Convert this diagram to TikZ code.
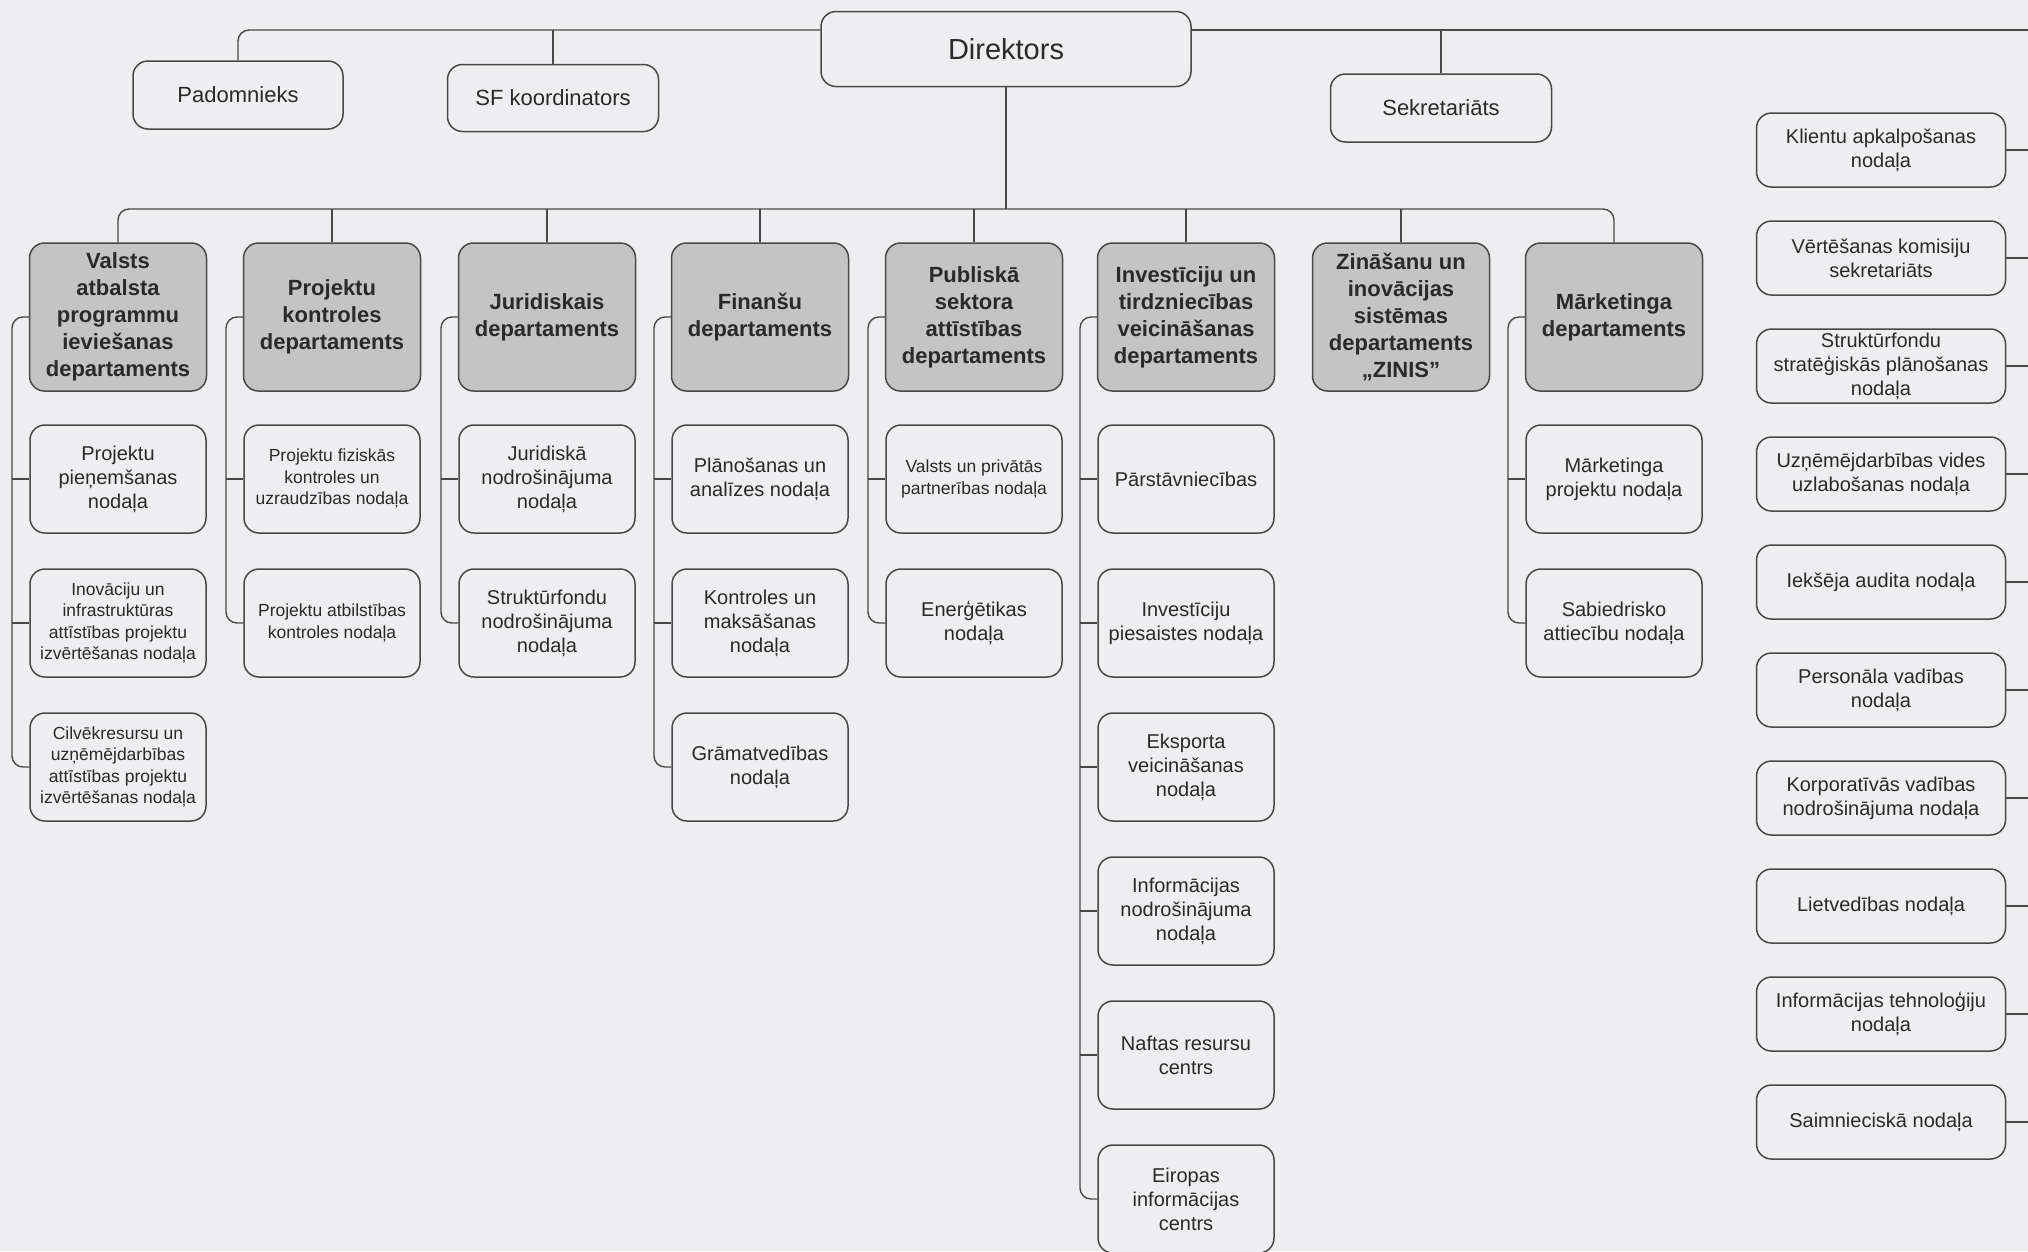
\documentclass[tikz,border=0pt]{standalone}
\usepackage{fontspec}
\setmainfont{Liberation Sans}
\begin{document}
\definecolor{bg}{RGB}{238,238,240}
\definecolor{ln}{RGB}{72,72,72}
\definecolor{tx}{RGB}{42,42,42}
\definecolor{dg}{RGB}{196,196,196}
\tikzset{
  obox/.style={draw=ln, line width=1.5pt, rounded corners=15pt, fill=bg, text=tx,
    align=center, inner sep=0pt},
  topbox/.style={obox, font=\fontsize{22}{27}\selectfont},
  dept/.style={obox, fill=dg, minimum width=177pt, minimum height=148pt,
    font=\bfseries\fontsize{22}{27}\selectfont},
  sub/.style={obox, minimum width=176pt, minimum height=108pt,
    font=\fontsize{20}{24}\selectfont},
  subs/.style={sub, font=\fontsize{17.5}{21.5}\selectfont},
  rbox/.style={obox, minimum width=249pt, minimum height=74pt,
    font=\fontsize{20}{24}\selectfont},
  conn/.style={draw=ln, line width=1.4pt, rounded corners=11pt}
}
\begin{tikzpicture}[x=1pt,y=-1pt]
\useasboundingbox (0,0) rectangle (2028,1251);
\fill[bg] (0,0) rectangle (2028,1251);

% coordinates
\coordinate (ty) at (0,30);
\coordinate (redge) at (2028,30);
\coordinate (dl) at (0,209);
\coordinate (b1) at (12,0);
\coordinate (b2) at (226,0);
\coordinate (b3) at (441,0);
\coordinate (b4) at (654,0);
\coordinate (b5) at (868,0);
\coordinate (b6) at (1080,0);
\coordinate (b8) at (1508,0);

% top level
\node[topbox, minimum width=370pt, minimum height=75pt, font=\fontsize{29}{34}\selectfont] (dir) at (1006,49) {Direktors};
\node[topbox, minimum width=210pt, minimum height=68pt] (pad) at (238,95) {Padomnieks};
\node[topbox, minimum width=211pt, minimum height=67pt] (sf) at (553,98) {SF koordinators};
\node[topbox, minimum width=221pt, minimum height=68pt] (sek) at (1441,108) {Sekretariāts};

% departments
\node[dept] (d1) at (118,317) {Valsts\\atbalsta\\programmu\\ieviešanas\\departaments};
\node[dept] (d2) at (332,317) {Projektu\\kontroles\\departaments};
\node[dept] (d3) at (547,317) {Juridiskais\\departaments};
\node[dept] (d4) at (760,317) {Finanšu\\departaments};
\node[dept] (d5) at (974,317) {Publiskā\\sektora\\attīstības\\departaments};
\node[dept] (d6) at (1186,317) {Investīciju un\\tirdzniecības\\veicināšanas\\departaments};
\node[dept] (d7) at (1401,317) {Zināšanu un\\inovācijas\\sistēmas\\departaments\\„ZINIS”};
\node[dept] (d8) at (1614,317) {Mārketinga\\departaments};

% column 1
\node[sub]  (c1a) at (118,479) {Projektu\\pieņemšanas\\nodaļa};
\node[subs] (c1b) at (118,623) {Inovāciju un\\infrastruktūras\\attīstības projektu\\izvērtēšanas nodaļa};
\node[subs] (c1c) at (118,767) {Cilvēkresursu un\\uzņēmējdarbības\\attīstības projektu\\izvērtēšanas nodaļa};
% column 2
\node[subs] (c2a) at (332,479) {Projektu fiziskās\\kontroles un\\uzraudzības nodaļa};
\node[subs] (c2b) at (332,623) {Projektu atbilstības\\kontroles nodaļa};
% column 3
\node[sub] (c3a) at (547,479) {Juridiskā\\nodrošinājuma\\nodaļa};
\node[sub] (c3b) at (547,623) {Struktūrfondu\\nodrošinājuma\\nodaļa};
% column 4
\node[sub] (c4a) at (760,479) {Plānošanas un\\analīzes nodaļa};
\node[sub] (c4b) at (760,623) {Kontroles un\\maksāšanas\\nodaļa};
\node[sub] (c4c) at (760,767) {Grāmatvedības\\nodaļa};
% column 5
\node[subs] (c5a) at (974,479) {Valsts un privātās\\partnerības nodaļa};
\node[sub]  (c5b) at (974,623) {Enerģētikas\\nodaļa};
% column 6
\node[sub] (c6a) at (1186,479) {Pārstāvniecības};
\node[sub] (c6b) at (1186,623) {Investīciju\\piesaistes nodaļa};
\node[sub] (c6c) at (1186,767) {Eksporta\\veicināšanas\\nodaļa};
\node[sub] (c6d) at (1186,911) {Informācijas\\nodrošinājuma\\nodaļa};
\node[sub] (c6e) at (1186,1055) {Naftas resursu\\centrs};
\node[sub] (c6f) at (1186,1199) {Eiropas\\informācijas\\centrs};
% column 8
\node[sub] (c8a) at (1614,479) {Mārketinga\\projektu nodaļa};
\node[sub] (c8b) at (1614,623) {Sabiedrisko\\attiecību nodaļa};

% right column
\node[rbox] (r1)  at (1881,150) {Klientu apkalpošanas\\nodaļa};
\node[rbox] (r2)  at (1881,258) {Vērtēšanas komisiju\\sekretariāts};
\node[rbox] (r3)  at (1881,366) {Struktūrfondu\\stratēģiskās plānošanas\\nodaļa};
\node[rbox] (r4)  at (1881,474) {Uzņēmējdarbības vides\\uzlabošanas nodaļa};
\node[rbox] (r5)  at (1881,582) {Iekšēja audita nodaļa};
\node[rbox] (r6)  at (1881,690) {Personāla vadības\\nodaļa};
\node[rbox] (r7)  at (1881,798) {Korporatīvās vadības\\nodrošinājuma nodaļa};
\node[rbox] (r8)  at (1881,906) {Lietvedības nodaļa};
\node[rbox] (r9)  at (1881,1014) {Informācijas tehnoloģiju\\nodaļa};
\node[rbox] (r10) at (1881,1122) {Saimnieciskā nodaļa};

% top connectors
\draw[conn] (pad.north) |- (dir.west |- ty);
\draw[conn] (sf.north) -- (sf.north |- ty);
\draw[conn] (dir.east |- ty) -- (redge);
\draw[conn] (sek.north) -- (sek.north |- ty);
\draw[conn] (dir.south) -- (dir.south |- dl);

% department bus
\draw[conn] (d1.north) |- (d8.north |- dl) -- (d8.north);
\foreach \d in {d2,d3,d4,d5,d6,d7}{
  \draw[conn] (\d.north) -- (\d.north |- dl);
}

% column connectors
\draw[conn] (d1.west) -- (d1.west -| b1) -- (c1c.west -| b1) -- (c1c.west);
\draw[conn] (c1a.west -| b1) -- (c1a.west);
\draw[conn] (c1b.west -| b1) -- (c1b.west);

\draw[conn] (d2.west) -- (d2.west -| b2) -- (c2b.west -| b2) -- (c2b.west);
\draw[conn] (c2a.west -| b2) -- (c2a.west);

\draw[conn] (d3.west) -- (d3.west -| b3) -- (c3b.west -| b3) -- (c3b.west);
\draw[conn] (c3a.west -| b3) -- (c3a.west);

\draw[conn] (d4.west) -- (d4.west -| b4) -- (c4c.west -| b4) -- (c4c.west);
\draw[conn] (c4a.west -| b4) -- (c4a.west);
\draw[conn] (c4b.west -| b4) -- (c4b.west);

\draw[conn] (d5.west) -- (d5.west -| b5) -- (c5b.west -| b5) -- (c5b.west);
\draw[conn] (c5a.west -| b5) -- (c5a.west);

\draw[conn] (d6.west) -- (d6.west -| b6) -- (c6f.west -| b6) -- (c6f.west);
\foreach \c in {c6a,c6b,c6c,c6d,c6e}{
  \draw[conn] (\c.west -| b6) -- (\c.west);
}

\draw[conn] (d8.west) -- (d8.west -| b8) -- (c8b.west -| b8) -- (c8b.west);
\draw[conn] (c8a.west -| b8) -- (c8a.west);

% right column stubs
\foreach \r in {r1,r2,r3,r4,r5,r6,r7,r8,r9,r10}{
  \draw[conn] (\r.east) -- (\r.east -| redge);
}
\end{tikzpicture}
\end{document}
